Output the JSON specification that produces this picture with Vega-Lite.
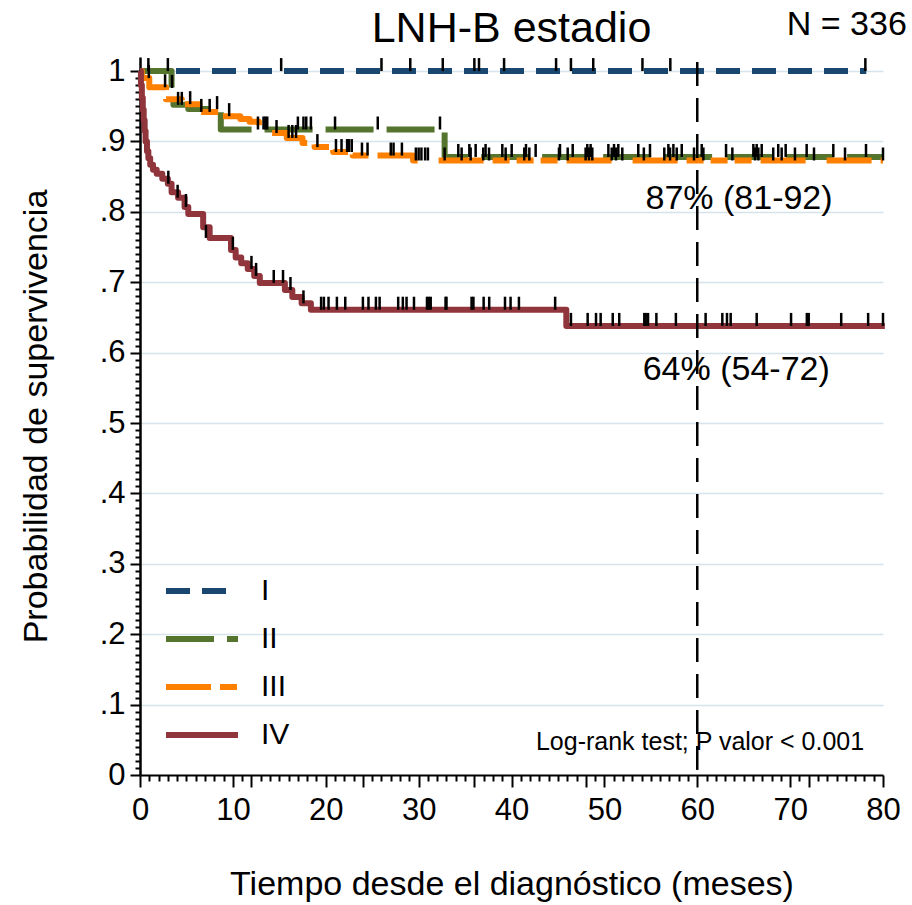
{
  "$schema": "https://vega.github.io/schema/vega-lite/v6.json",
  "autosize": {"type": "none"},
  "padding": {"left": 140, "top": 57, "right": 29, "bottom": 130},
  "width": 743,
  "height": 718,
  "background": "white",
  "config": {
    "view": {"stroke": null},
    "font": "Liberation Sans",
    "text": {"font": "Liberation Sans", "color": "black"}
  },
  "datasets": {
    "curves": [
      {"stage": "I", "t": 0, "s": 1}, {"stage": "I", "t": 78.2, "s": 1},
      {"stage": "II", "t": 0, "s": 1}, {"stage": "II", "t": 3.4, "s": 0.976}, {"stage": "II", "t": 3.6, "s": 0.952}, {"stage": "II", "t": 5.2, "s": 0.946}, {"stage": "II", "t": 8.7, "s": 0.917}, {"stage": "II", "t": 32.8, "s": 0.878}, {"stage": "II", "t": 80, "s": 0.878},
      {"stage": "III", "t": 0, "s": 1}, {"stage": "III", "t": 0.2, "s": 0.99}, {"stage": "III", "t": 1.0, "s": 0.977}, {"stage": "III", "t": 2.8, "s": 0.96}, {"stage": "III", "t": 4.5, "s": 0.953}, {"stage": "III", "t": 6.4, "s": 0.942}, {"stage": "III", "t": 8.6, "s": 0.936}, {"stage": "III", "t": 10.8, "s": 0.932}, {"stage": "III", "t": 11.8, "s": 0.928}, {"stage": "III", "t": 12.8, "s": 0.92}, {"stage": "III", "t": 14.2, "s": 0.912}, {"stage": "III", "t": 15.8, "s": 0.905}, {"stage": "III", "t": 17.5, "s": 0.898}, {"stage": "III", "t": 18.8, "s": 0.892}, {"stage": "III", "t": 20.8, "s": 0.885}, {"stage": "III", "t": 22.9, "s": 0.88}, {"stage": "III", "t": 29.4, "s": 0.873}, {"stage": "III", "t": 80, "s": 0.873},
      {"stage": "IV", "t": 0, "s": 1}, {"stage": "IV", "t": 0.1, "s": 0.98}, {"stage": "IV", "t": 0.2, "s": 0.962}, {"stage": "IV", "t": 0.3, "s": 0.945}, {"stage": "IV", "t": 0.4, "s": 0.93}, {"stage": "IV", "t": 0.5, "s": 0.915}, {"stage": "IV", "t": 0.6, "s": 0.9}, {"stage": "IV", "t": 0.75, "s": 0.886}, {"stage": "IV", "t": 0.9, "s": 0.876}, {"stage": "IV", "t": 1.1, "s": 0.867}, {"stage": "IV", "t": 1.4, "s": 0.86}, {"stage": "IV", "t": 1.8, "s": 0.854}, {"stage": "IV", "t": 2.4, "s": 0.847}, {"stage": "IV", "t": 3.0, "s": 0.84}, {"stage": "IV", "t": 3.4, "s": 0.828}, {"stage": "IV", "t": 4.1, "s": 0.82}, {"stage": "IV", "t": 4.8, "s": 0.807}, {"stage": "IV", "t": 5.2, "s": 0.797}, {"stage": "IV", "t": 6.8, "s": 0.778}, {"stage": "IV", "t": 7.5, "s": 0.763}, {"stage": "IV", "t": 9.8, "s": 0.746}, {"stage": "IV", "t": 10.3, "s": 0.735}, {"stage": "IV", "t": 10.9, "s": 0.727}, {"stage": "IV", "t": 11.6, "s": 0.719}, {"stage": "IV", "t": 12.3, "s": 0.709}, {"stage": "IV", "t": 12.9, "s": 0.699}, {"stage": "IV", "t": 15.6, "s": 0.689}, {"stage": "IV", "t": 16.4, "s": 0.679}, {"stage": "IV", "t": 17.4, "s": 0.67}, {"stage": "IV", "t": 18.4, "s": 0.661}, {"stage": "IV", "t": 45.9, "s": 0.638}, {"stage": "IV", "t": 80.2, "s": 0.638}
    ],
    "censor": [
      {"t": 3.0, "s": 1}, {"t": 15.2, "s": 1}, {"t": 26.0, "s": 1}, {"t": 29.1, "s": 1}, {"t": 32.6, "s": 1}, {"t": 36.0, "s": 1}, {"t": 36.5, "s": 1}, {"t": 39.2, "s": 1}, {"t": 44.8, "s": 1}, {"t": 46.4, "s": 1}, {"t": 48.8, "s": 1}, {"t": 54.1, "s": 1}, {"t": 57.1, "s": 1}, {"t": 78.1, "s": 1},
      {"t": 0.9, "s": 1}, {"t": 3.45, "s": 0.976}, {"t": 4.1, "s": 0.952}, {"t": 4.5, "s": 0.952}, {"t": 8.3, "s": 0.946}, {"t": 12.7, "s": 0.917}, {"t": 13.3, "s": 0.917}, {"t": 13.5, "s": 0.917}, {"t": 13.7, "s": 0.917}, {"t": 17.0, "s": 0.917}, {"t": 17.6, "s": 0.917}, {"t": 17.9, "s": 0.917}, {"t": 18.4, "s": 0.917}, {"t": 21.0, "s": 0.917}, {"t": 25.6, "s": 0.917}, {"t": 32.3, "s": 0.917},
      {"t": 0.95, "s": 0.99}, {"t": 2.7, "s": 0.977}, {"t": 5.4, "s": 0.953}, {"t": 6.6, "s": 0.942}, {"t": 7.5, "s": 0.942}, {"t": 9.6, "s": 0.936}, {"t": 14.7, "s": 0.912}, {"t": 16.0, "s": 0.905}, {"t": 16.4, "s": 0.905}, {"t": 16.8, "s": 0.905}, {"t": 19.1, "s": 0.892}, {"t": 21.1, "s": 0.885}, {"t": 21.7, "s": 0.885}, {"t": 22.3, "s": 0.885}, {"t": 22.5, "s": 0.885}, {"t": 22.8, "s": 0.885}, {"t": 23.9, "s": 0.88}, {"t": 24.5, "s": 0.88}, {"t": 27.0, "s": 0.88}, {"t": 27.3, "s": 0.88}, {"t": 28.2, "s": 0.88}, {"t": 29.7, "s": 0.873}, {"t": 30.0, "s": 0.873}, {"t": 30.3, "s": 0.873}, {"t": 30.7, "s": 0.873}, {"t": 31.0, "s": 0.873}, {"t": 32.8, "s": 0.873},
      {"t": 34.27, "s": 0.878}, {"t": 34.63, "s": 0.873}, {"t": 35.46, "s": 0.878}, {"t": 35.6, "s": 0.873}, {"t": 36.14, "s": 0.878}, {"t": 36.96, "s": 0.873}, {"t": 37.21, "s": 0.878}, {"t": 37.58, "s": 0.873}, {"t": 39.01, "s": 0.878}, {"t": 39.37, "s": 0.873}, {"t": 40.02, "s": 0.878}, {"t": 41.37, "s": 0.873}, {"t": 41.56, "s": 0.878}, {"t": 41.92, "s": 0.873}, {"t": 42.6, "s": 0.878}, {"t": 45.11, "s": 0.873}, {"t": 45.22, "s": 0.878}, {"t": 46.05, "s": 0.873}, {"t": 46.59, "s": 0.878}, {"t": 47.98, "s": 0.873}, {"t": 48.16, "s": 0.878}, {"t": 48.34, "s": 0.873}, {"t": 48.52, "s": 0.878}, {"t": 48.7, "s": 0.873}, {"t": 50.43, "s": 0.878}, {"t": 50.79, "s": 0.873}, {"t": 51.04, "s": 0.878}, {"t": 51.25, "s": 0.873}, {"t": 51.5, "s": 0.878}, {"t": 51.93, "s": 0.873}, {"t": 53.65, "s": 0.878}, {"t": 54.25, "s": 0.873}, {"t": 54.91, "s": 0.878}, {"t": 56.45, "s": 0.873}, {"t": 56.89, "s": 0.878}, {"t": 57.07, "s": 0.873}, {"t": 57.43, "s": 0.878}, {"t": 57.79, "s": 0.873}, {"t": 58.33, "s": 0.878}, {"t": 59.65, "s": 0.873}, {"t": 60.48, "s": 0.878}, {"t": 60.66, "s": 0.873}, {"t": 63.1, "s": 0.878}, {"t": 63.78, "s": 0.873}, {"t": 66.04, "s": 0.878}, {"t": 66.22, "s": 0.873}, {"t": 66.4, "s": 0.878}, {"t": 66.58, "s": 0.873}, {"t": 66.94, "s": 0.878}, {"t": 68.18, "s": 0.873}, {"t": 68.72, "s": 0.878}, {"t": 69.09, "s": 0.873}, {"t": 69.52, "s": 0.878}, {"t": 70.52, "s": 0.873}, {"t": 71.78, "s": 0.878}, {"t": 72.57, "s": 0.873}, {"t": 74.65, "s": 0.878}, {"t": 75.91, "s": 0.873}, {"t": 78.17, "s": 0.878}, {"t": 80.0, "s": 0.873},
      {"t": 3.05, "s": 0.84}, {"t": 4.05, "s": 0.82}, {"t": 4.95, "s": 0.807}, {"t": 7.1, "s": 0.763}, {"t": 10.0, "s": 0.746}, {"t": 12.0, "s": 0.719}, {"t": 12.5, "s": 0.709}, {"t": 14.4, "s": 0.699}, {"t": 15.4, "s": 0.699}, {"t": 16.2, "s": 0.689}, {"t": 17.6, "s": 0.67},
      {"t": 19.5, "s": 0.661}, {"t": 19.8, "s": 0.661}, {"t": 20.3, "s": 0.661}, {"t": 21.2, "s": 0.661}, {"t": 22.1, "s": 0.661}, {"t": 24.0, "s": 0.661}, {"t": 24.6, "s": 0.661}, {"t": 25.4, "s": 0.661}, {"t": 25.8, "s": 0.661}, {"t": 27.8, "s": 0.661}, {"t": 28.3, "s": 0.661}, {"t": 28.7, "s": 0.661}, {"t": 29.5, "s": 0.661}, {"t": 30.9, "s": 0.661}, {"t": 31.1, "s": 0.661}, {"t": 31.3, "s": 0.661}, {"t": 32.9, "s": 0.661}, {"t": 33.0, "s": 0.661}, {"t": 35.7, "s": 0.661}, {"t": 35.9, "s": 0.661}, {"t": 37.0, "s": 0.661}, {"t": 37.6, "s": 0.661}, {"t": 39.3, "s": 0.661}, {"t": 39.9, "s": 0.661}, {"t": 40.8, "s": 0.661}, {"t": 44.7, "s": 0.661},
      {"t": 46.4, "s": 0.638}, {"t": 48.2, "s": 0.638}, {"t": 49.1, "s": 0.638}, {"t": 49.6, "s": 0.638}, {"t": 50.9, "s": 0.638}, {"t": 51.6, "s": 0.638}, {"t": 54.3, "s": 0.638}, {"t": 54.45, "s": 0.638}, {"t": 54.7, "s": 0.638}, {"t": 55.6, "s": 0.638}, {"t": 57.7, "s": 0.638}, {"t": 60.9, "s": 0.638}, {"t": 62.7, "s": 0.638}, {"t": 63.2, "s": 0.638}, {"t": 63.6, "s": 0.638}, {"t": 66.4, "s": 0.638}, {"t": 70.1, "s": 0.638}, {"t": 71.8, "s": 0.638}, {"t": 72.0, "s": 0.638}, {"t": 75.5, "s": 0.638}, {"t": 78.4, "s": 0.638}, {"t": 80.0, "s": 0.638}
    ],
    "notes": [
      {"label": "LNH-B estadio", "t": 40, "s": 1.0413, "kind": "title"},
      {"label": "N = 336", "t": 76.1, "s": 1.0513, "kind": "big"},
      {"label": "87% (81-92)", "t": 64.5, "s": 0.804, "kind": "big"},
      {"label": "64% (54-72)", "t": 64.2, "s": 0.561, "kind": "big"},
      {"label": "Log-rank test; P valor < 0.001", "t": 60.3, "s": 0.0355, "kind": "small"}
    ],
    "ref": [{"t": 60, "top": 1.013, "bottom": 0}]
  },
  "layer": [
    {
      "data": {"name": "curves"},
      "mark": {"type": "line", "interpolate": "step-after", "strokeWidth": 6, "strokeJoin": "round", "strokeCap": "butt"},
      "encoding": {
        "x": {"field": "t", "type": "quantitative", "scale": {"domain": [0, 80], "nice": false, "zero": false},
          "axis": {
            "values": [0,1,2,3,4,5,6,7,8,9,10,11,12,13,14,15,16,17,18,19,20,21,22,23,24,25,26,27,28,29,30,31,32,33,34,35,36,37,38,39,40,41,42,43,44,45,46,47,48,49,50,51,52,53,54,55,56,57,58,59,60,61,62,63,64,65,66,67,68,69,70,71,72,73,74,75,76,77,78,79,80],
            "tickCount": 1000,
            "labelExpr": "datum.value % 10 === 0 ? format(datum.value, 'd') : ''",
            "labelOverlap": false, "labelBound": false, "labelFlush": false,
            "tickSize": {"condition": {"test": "datum.value % 10 === 0 || datum.value % 12 === 0", "value": 12}, "value": 6},
            "tickColor": "black", "tickWidth": 2, "domainColor": "black", "domainWidth": 2,
            "labelFontSize": 31, "labelColor": "black", "labelPadding": 8, "labelFont": "Liberation Sans",
            "grid": false,
            "title": "Tiempo desde el diagnóstico (meses)", "titleFontSize": 34, "titleFontWeight": "normal", "titleColor": "black", "titleFont": "Liberation Sans", "titlePadding": 42
          }},
        "y": {"field": "s", "type": "quantitative", "scale": {"domain": [0, 1.02], "nice": false, "zero": false},
          "axis": {
            "values": [0,0.01,0.02,0.03,0.04,0.05,0.06,0.07,0.08,0.09,0.1,0.11,0.12,0.13,0.14,0.15,0.16,0.17,0.18,0.19,0.2,0.21,0.22,0.23,0.24,0.25,0.26,0.27,0.28,0.29,0.3,0.31,0.32,0.33,0.34,0.35,0.36,0.37,0.38,0.39,0.4,0.41,0.42,0.43,0.44,0.45,0.46,0.47,0.48,0.49,0.5,0.51,0.52,0.53,0.54,0.55,0.56,0.57,0.58,0.59,0.6,0.61,0.62,0.63,0.64,0.65,0.66,0.67,0.68,0.69,0.7,0.71,0.72,0.73,0.74,0.75,0.76,0.77,0.78,0.79,0.8,0.81,0.82,0.83,0.84,0.85,0.86,0.87,0.88,0.89,0.9,0.91,0.92,0.93,0.94,0.95,0.96,0.97,0.98,0.99,1],
            "tickCount": 1000,
            "labelExpr": "round(datum.value*100) % 10 === 0 ? (datum.value < 0.001 ? '0' : (datum.value > 0.999 ? '1' : replace(format(datum.value, '.1f'), '0.', '.'))) : ''",
            "labelOverlap": false, "labelBound": false, "labelFlush": false,
            "tickSize": {"condition": {"test": "round(datum.value*100) % 10 === 0", "value": 10}, "value": 5},
            "tickColor": "black", "tickWidth": 2, "domainColor": "black", "domainWidth": 2.5,
            "labelFontSize": 31, "labelColor": "black", "labelPadding": 5, "labelFont": "Liberation Sans",
            "grid": true, "gridColor": "#d7e3ea", "gridWidth": 1.5,
            "gridOpacity": {"condition": {"test": "round(datum.value*100) % 10 === 0 && datum.value > 0.001", "value": 1}, "value": 0},
            "title": "Probabilidad de supervivencia", "titleFontSize": 34, "titleFontWeight": "normal", "titleColor": "black", "titleFont": "Liberation Sans", "titlePadding": 46
          }},
        "color": {"field": "stage", "type": "nominal",
          "scale": {"domain": ["I", "II", "III", "IV"], "range": ["#1a476f", "#55752f", "#ff8000", "#90353b"]},
          "legend": {"orient": "none", "legendX": 23, "legendY": 510, "title": null, "symbolType": "stroke", "symbolSize": 5184, "symbolStrokeWidth": 6, "labelFontSize": 30, "labelColor": "black", "labelFont": "Liberation Sans", "labelOffset": 20, "rowPadding": 0, "clipHeight": 48, "padding": 0}},
        "strokeDash": {"field": "stage", "type": "nominal",
          "scale": {"domain": ["I", "II", "III", "IV"], "range": [[24, 12], [48, 13], [45, 9, 17, 7, 17, 7, 17, 9, 45, 21], [1, 0]]},
          "legend": {"orient": "none", "legendX": 23, "legendY": 510, "title": null, "symbolType": "stroke", "symbolSize": 5184, "symbolStrokeWidth": 6, "labelFontSize": 30, "labelColor": "black", "labelFont": "Liberation Sans", "labelOffset": 20, "rowPadding": 0, "clipHeight": 48, "padding": 0}}
      }
    },
    {
      "data": {"name": "ref"},
      "mark": {"type": "rule", "color": "black", "strokeWidth": 2.5, "strokeDash": [24, 12]},
      "encoding": {"x": {"field": "t", "type": "quantitative"}, "y": {"field": "top", "type": "quantitative"}, "y2": {"field": "bottom"}}
    },
    {
      "data": {"name": "censor"},
      "mark": {"type": "tick", "orient": "vertical", "size": 13, "thickness": 2.5, "color": "black", "opacity": 1, "yOffset": -6.5},
      "encoding": {
        "x": {"field": "t", "type": "quantitative"},
        "y": {"field": "s", "type": "quantitative"}
      }
    },
    {
      "data": {"name": "notes"},
      "transform": [{"filter": "datum.kind === 'title'"}],
      "mark": {"type": "text", "align": "center", "baseline": "alphabetic", "fontSize": 43},
      "encoding": {"x": {"field": "t", "type": "quantitative"}, "y": {"field": "s", "type": "quantitative"}, "text": {"field": "label"}}
    },
    {
      "data": {"name": "notes"},
      "transform": [{"filter": "datum.kind === 'big'"}],
      "mark": {"type": "text", "align": "center", "baseline": "alphabetic", "fontSize": 34},
      "encoding": {"x": {"field": "t", "type": "quantitative"}, "y": {"field": "s", "type": "quantitative"}, "text": {"field": "label"}}
    },
    {
      "data": {"name": "notes"},
      "transform": [{"filter": "datum.kind === 'small'"}],
      "mark": {"type": "text", "align": "center", "baseline": "alphabetic", "fontSize": 25},
      "encoding": {"x": {"field": "t", "type": "quantitative"}, "y": {"field": "s", "type": "quantitative"}, "text": {"field": "label"}}
    }
  ]
}
